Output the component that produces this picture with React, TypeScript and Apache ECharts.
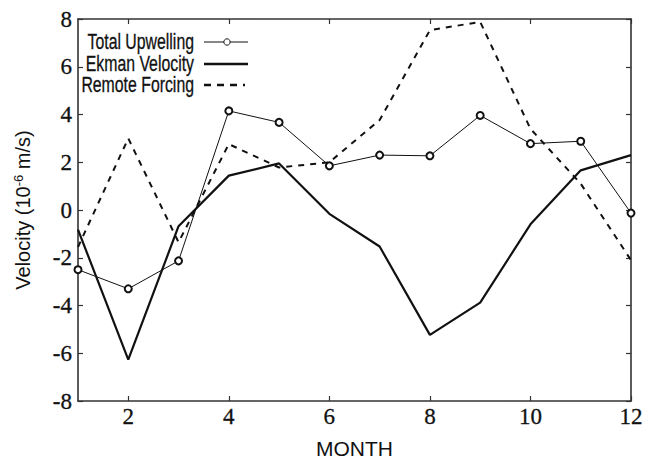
import React, { useEffect, useRef } from "react";
import * as echarts from "echarts";

const months = [1, 2, 3, 4, 5, 6, 7, 8, 9, 10, 11, 12];
const totalUpwelling = [-2.5, -3.3, -2.13, 4.15, 3.67, 1.85, 2.3, 2.27, 3.96, 2.78, 2.88, -0.13];
const ekmanVelocity = [-0.82, -6.27, -0.68, 1.44, 1.95, -0.16, -1.53, -5.23, -3.88, -0.6, 1.66, 2.3];
const remoteForcing = [-1.55, 3.0, -1.35, 2.76, 1.78, 2.0, 3.77, 7.53, 7.88, 3.4, 1.1, -2.1];
const xTicks = [2, 4, 6, 8, 10, 12];
const legendNames = ["Total Upwelling", "Ekman Velocity", "Remote Forcing"];

const pairs = (ys: number[]) => months.map((m, i) => [m, ys[i]]);

export default function App() {
  const ref = useRef<HTMLDivElement>(null);
  useEffect(() => {
    if (!ref.current) return;
    const chart = echarts.init(ref.current, undefined, { renderer: "svg" });
    const axisColor = "#333";
    const serif = "serif";
    const sans = "Liberation Sans";
    const legendY = [42, 64, 85];
    const tickLabel = {
      fontFamily: serif,
      fontSize: 23,
      color: "#111",
      textBorderColor: "#111",
      textBorderWidth: 0.3,
    };
    chart.setOption({
      animation: false,
      backgroundColor: "#fff",
      textStyle: { fontFamily: sans },
      grid: { left: 78, right: 17, top: 19, bottom: 58, outerBoundsMode: "none", containLabel: false },
      xAxis: [
        {
          type: "value",
          min: 1,
          max: 12,
          name: "MONTH",
          nameLocation: "middle",
          nameGap: 37,
          nameTextStyle: { fontFamily: sans, fontSize: 21, color: "#111" },
          axisLine: { onZero: false, lineStyle: { color: axisColor, width: 1.6 } },
          axisTick: { inside: true, length: 5, customValues: xTicks, lineStyle: { color: axisColor, width: 1.2 } },
          axisLabel: { customValues: xTicks, margin: 4, ...tickLabel },
          splitLine: { show: false },
        },
        {
          type: "value",
          min: 1,
          max: 12,
          position: "top",
          axisLine: { onZero: false, lineStyle: { color: axisColor, width: 1.6 } },
          axisTick: { inside: true, length: 5, customValues: xTicks, lineStyle: { color: axisColor, width: 1.2 } },
          axisLabel: { show: false },
          splitLine: { show: false },
        },
      ],
      yAxis: [
        {
          type: "value",
          min: -8,
          max: 8,
          interval: 2,
          name: "{a|Velocity (10}{s|-6}{a| m/s)}",
          nameLocation: "middle",
          nameGap: 44,
          nameTextStyle: {
            rich: {
              a: { fontFamily: sans, fontSize: 20, color: "#111", lineHeight: 22 },
              s: { fontFamily: sans, fontSize: 13, color: "#111", verticalAlign: "top", lineHeight: 22 },
            },
          },
          axisLine: { onZero: false, lineStyle: { color: axisColor, width: 1.6 } },
          axisTick: { inside: true, length: 5, lineStyle: { color: axisColor, width: 1.2 } },
          axisLabel: { margin: 6, ...tickLabel },
          splitLine: { show: false },
        },
        {
          type: "value",
          min: -8,
          max: 8,
          interval: 2,
          position: "right",
          axisLine: { onZero: false, lineStyle: { color: axisColor, width: 1.6 } },
          axisTick: { inside: true, length: 5, lineStyle: { color: axisColor, width: 1.2 } },
          axisLabel: { show: false },
          splitLine: { show: false },
        },
      ],
      series: [
        {
          name: legendNames[2],
          type: "line",
          data: pairs(remoteForcing),
          symbol: "none",
          lineStyle: { color: "#111", width: 2, type: [6, 6] },
          z: 2,
        },
        {
          name: legendNames[1],
          type: "line",
          data: pairs(ekmanVelocity),
          symbol: "none",
          lineStyle: { color: "#111", width: 2.2 },
          z: 3,
        },
        {
          name: legendNames[0],
          type: "line",
          data: pairs(totalUpwelling),
          symbol: "emptyCircle",
          symbolSize: 7,
          itemStyle: { color: "#111", borderColor: "#111", borderWidth: 1 },
          lineStyle: { color: "#111", width: 1 },
          z: 4,
        },
      ],
      graphic: [
        ...legendNames.map((n, i) => ({
          type: "text",
          x: 194,
          y: legendY[i],
          scaleX: 0.72,
          style: {
            text: n,
            fontFamily: sans,
            fontSize: 22,
            fill: "#111",
            stroke: "#111",
            lineWidth: 0.3,
            textAlign: "right",
            textVerticalAlign: "middle",
          },
          z: 10,
        })),
        { type: "line", shape: { x1: 204, y1: legendY[0], x2: 248, y2: legendY[0] }, style: { stroke: "#111", lineWidth: 1.2 }, z: 10 },
        { type: "circle", shape: { cx: 227, cy: legendY[0], r: 3.2 }, style: { fill: "#fff", stroke: "#111", lineWidth: 1 }, z: 11 },
        { type: "line", shape: { x1: 204, y1: legendY[1], x2: 248, y2: legendY[1] }, style: { stroke: "#111", lineWidth: 2.6 }, z: 10 },
        { type: "line", shape: { x1: 204, y1: legendY[2], x2: 245, y2: legendY[2] }, style: { stroke: "#111", lineWidth: 2.6, lineDash: [7, 6] }, z: 10 },
      ],
    });
    return () => chart.dispose();
  }, []);
  return <div ref={ref} style={{ width: 648, height: 459, position: "absolute", left: 0, top: 0 }} />;
}
